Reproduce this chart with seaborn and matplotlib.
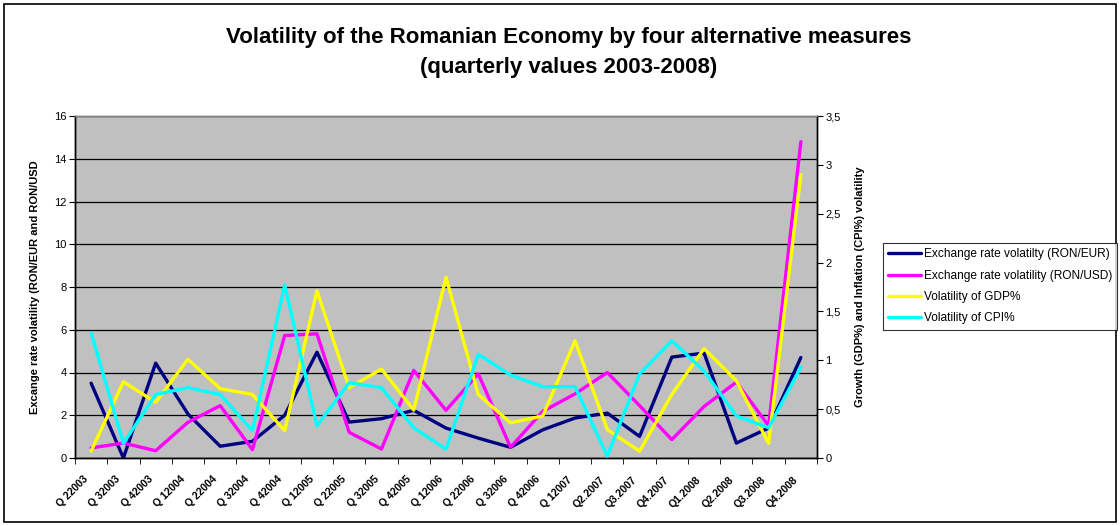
import matplotlib
matplotlib.use("Agg")
import matplotlib.pyplot as plt
import seaborn as sns
import pandas as pd
from matplotlib.patches import Rectangle
from matplotlib.transforms import ScaledTranslation

quarters = ["Q 22003", "Q 32003", "Q 42003", "Q 12004", "Q 22004", "Q 32004", "Q 42004",
            "Q 12005", "Q 22005", "Q 32005", "Q 42005", "Q 12006", "Q 22006", "Q 32006",
            "Q 42006", "Q 12007", "Q2.2007", "Q3.2007", "Q4.2007", "Q1.2008", "Q2.2008",
            "Q3.2008", "Q4.2008"]

ron_eur = [3.50, 0.00, 4.44, 2.06, 0.55, 0.78, 2.00, 4.95, 1.68, 1.84, 2.23, 1.40, 0.93,
           0.50, 1.32, 1.87, 2.10, 1.01, 4.72, 4.91, 0.70, 1.40, 4.70]
ron_usd = [0.47, 0.70, 0.34, 1.67, 2.45, 0.39, 5.73, 5.81, 1.20, 0.42, 4.10, 2.23, 3.94,
           0.50, 2.18, 3.00, 4.00, 2.45, 0.86, 2.41, 3.55, 1.51, 14.80]
gdp_vol = [0.07, 0.78, 0.57, 1.01, 0.71, 0.65, 0.28, 1.71, 0.72, 0.91, 0.49, 1.85, 0.65,
           0.36, 0.43, 1.20, 0.29, 0.07, 0.65, 1.12, 0.79, 0.15, 2.90]
cpi_vol = [1.28, 0.15, 0.65, 0.72, 0.65, 0.28, 1.77, 0.33, 0.77, 0.72, 0.31, 0.09, 1.06,
           0.85, 0.73, 0.73, 0.02, 0.86, 1.20, 0.89, 0.43, 0.31, 0.93]

labels = ["Exchange rate volatilty (RON/EUR)", "Exchange rate volatility (RON/USD)",
          "Volatility of GDP%", "Volatility of CPI%"]
colors = ["#000080", "#FF00FF", "#FFFF00", "#00FFFF"]

sns.set_style("white")
plt.rcParams['font.family'] = ['Liberation Sans', 'DejaVu Sans']
for k in ("text.color", "axes.labelcolor", "xtick.color", "ytick.color"):
    plt.rcParams[k] = "black"

n = len(quarters)
idx = list(range(n))
df_left = pd.DataFrame({"x": idx * 2,
                        "y": ron_eur + ron_usd,
                        "s": [labels[0]] * n + [labels[1]] * n})
df_right = pd.DataFrame({"x": idx * 2,
                         "y": gdp_vol + cpi_vol,
                         "s": [labels[2]] * n + [labels[3]] * n})

fig = plt.figure(figsize=(11.2, 5.26), dpi=100)
ax = fig.add_axes([75 / 1120, 1 - 458 / 526, (817 - 75) / 1120, (458 - 116) / 526])
ax.set_facecolor("#C0C0C0")
ax2 = ax.twinx()

lw = 2.4
sns.lineplot(data=df_left, x="x", y="y", hue="s", palette=colors[:2], ax=ax,
             linewidth=lw, legend=False, zorder=3)
sns.lineplot(data=df_right, x="x", y="y", hue="s", palette=colors[2:], ax=ax2,
             linewidth=lw, legend=False, zorder=3)

ax.set_xlim(-0.5, n - 0.5)
ax.set_ylim(0, 16)
ax2.set_ylim(0, 3.5)

ax.set_yticks(range(0, 17, 2))
ax.yaxis.grid(True, color="black", linewidth=0.9)
ax.set_axisbelow(True)
ax.tick_params(axis="y", direction="out", length=4, labelsize=8, pad=2, left=True)
ax2.set_yticks([0, 0.5, 1, 1.5, 2, 2.5, 3, 3.5])
ax2.set_yticklabels(["0", "0,5", "1", "1,5", "2", "2,5", "3", "3,5"])
ax2.tick_params(axis="y", direction="out", length=4, labelsize=8, pad=2, right=True)

ax.set_xticks(idx)
ax.set_xticklabels(quarters, rotation=45, ha="right", rotation_mode="anchor",
                   fontsize=7.5, fontweight="bold")
ax.tick_params(axis="x", which="major", length=0, pad=6)
ax.set_xticks([i - 0.5 for i in range(n + 1)], minor=True)
ax.tick_params(axis="x", which="minor", length=4, direction="out", bottom=True)
shift = ScaledTranslation(-0.08, -0.08, fig.dpi_scale_trans)
for lab in ax.get_xticklabels():
    lab.set_transform(lab.get_transform() + shift)

ax.set_xlabel("")
ax.set_ylabel("Excange rate volatility (RON/EUR and RON/USD", fontsize=8,
              fontweight="bold", labelpad=10)
ax2.set_ylabel("Growth (GDP%) and Inflation (CPI%) volatility", fontsize=8,
               fontweight="bold", labelpad=10)

for a in (ax, ax2):
    for side in ("left", "bottom", "right"):
        a.spines[side].set_color("black")
        a.spines[side].set_linewidth(1.0)
    a.spines["top"].set_color("#808080")
    a.spines["top"].set_linewidth(1.0)

fig.text(569 / 1120, 1 - 38 / 526,
         "Volatility of the Romanian Economy by four alternative measures",
         ha="center", va="center", fontsize=16, fontweight="bold")
fig.text(569 / 1120, 1 - 68 / 526, "(quarterly values 2003-2008)",
         ha="center", va="center", fontsize=16, fontweight="bold")

handles = [plt.Line2D([0], [0], color=c, linewidth=lw) for c in colors]
leg = fig.legend(handles, labels, loc="upper left",
                 bbox_to_anchor=(883 / 1120, 1 - 243 / 526), fontsize=8.6,
                 frameon=True, fancybox=False, edgecolor="black",
                 handlelength=2.7, handletextpad=0.25, borderpad=0.45,
                 labelspacing=0.78, borderaxespad=0)
leg.get_frame().set_linewidth(0.8)

fig.patches.append(Rectangle((4 / 1120, 4 / 526), 1112 / 1120, 518 / 526,
                             transform=fig.transFigure, fill=False,
                             edgecolor="black", linewidth=1.2))

fig.savefig("out.png", dpi=100)
